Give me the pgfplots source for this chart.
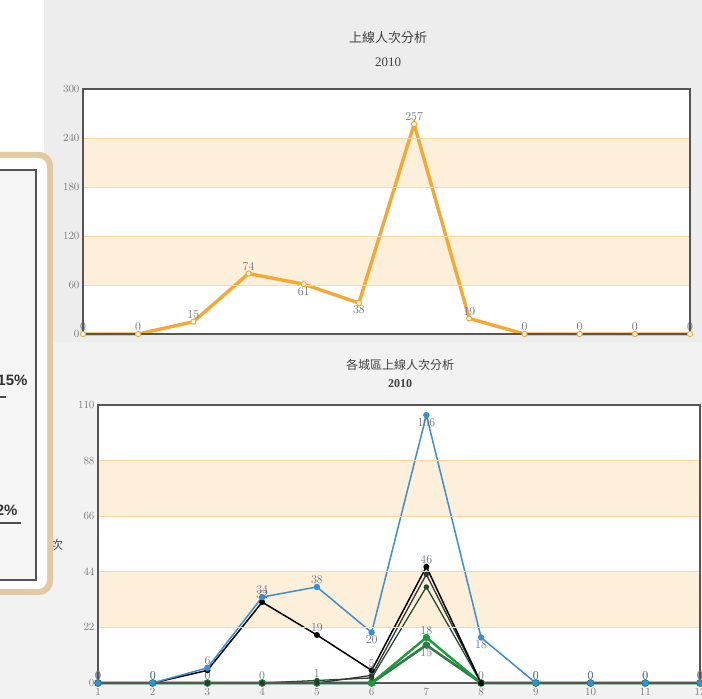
\documentclass[border=0pt]{standalone}
\usepackage{pgfplots}
\pgfplotsset{compat=1.18}
\usepackage{fontspec}
\setmainfont{Liberation Serif}
\newfontfamily\cjk{Noto Sans CJK TC}
\newfontfamily\sansb{Liberation Sans}
\definecolor{bgA}{HTML}{EDEDED}
\definecolor{bgB}{HTML}{F2F2F2}
\definecolor{org}{HTML}{F5A935}
\definecolor{band}{HTML}{FDEFD9}
\definecolor{gridc}{HTML}{FAD8A0}
\definecolor{lbl}{HTML}{6A7085}
\definecolor{tickc}{HTML}{7A7A7A}
\definecolor{blu}{HTML}{3A8ED2}
\definecolor{dgreen}{HTML}{1F4F2C}
\definecolor{grn}{HTML}{1B9A3E}
\definecolor{grn2}{HTML}{2E7D3E}
\definecolor{dgray}{HTML}{333333}
\definecolor{beige}{HTML}{E2C9A2}
\definecolor{frame}{HTML}{555555}
\pgfplotsset{
  common/.style={
    anchor=south west, scale only axis, xmin=1, xmax=12,
    axis on top,
    axis line style={draw=frame, line width=1.2pt},
    tick style={draw=none},
    yticklabel style={font=\fontsize{10.5}{10.5}\selectfont, text=tickc},
    xticklabel style={font=\fontsize{10.5}{10.5}\selectfont, text=tickc, yshift=-2pt},
    ymajorgrids, grid style={gridc, line width=0.7pt},
    axis background/.style={fill=white},
    clip=false,
  },
  lab/.style={draw=none, mark=none, nodes near coords,
    every node near coord/.append style={font=\fontsize{11.5}{11.5}\selectfont, text=lbl, inner sep=3pt}},
  labb/.style={lab, nodes near coords align=below},
}
\begin{document}
\begin{tikzpicture}[x=1pt,y=1pt]
\useasboundingbox (0,0) rectangle (702,699);
\fill[bgA] (0,0) rectangle (702,699);
\fill[white] (0,357) rectangle (44,699);
\fill[bgB] (0,0) rectangle (702,357);

% ---------- top chart ----------
\node[font=\cjk\fontsize{13}{13}\selectfont, text=black!75] at (388,661) {上線人次分析};
\node[font=\fontsize{13}{13}\selectfont, text=black!75] at (388,637) {2010};
\begin{axis}[common, at={(83pt,365pt)}, width=607pt, height=245pt,
  ymin=0, ymax=300, ytick={0,60,...,300}, xtick=\empty]
  \fill[band] (axis cs:1,60) rectangle (axis cs:12,120);
  \fill[band] (axis cs:1,180) rectangle (axis cs:12,240);
  \addplot[org, line width=3.4pt, mark=*, mark size=2.6pt,
    mark options={fill=white, draw=org, line width=1pt}]
    coordinates {(1,0)(2,0)(3,15)(4,74)(5,61)(6,38)(7,257)(8,19)(9,0)(10,0)(11,0)(12,0)};
  \addplot[lab] coordinates {(1,0)(2,0)(3,15)(4,74)(7,257)(8,19)(9,0)(10,0)(11,0)(12,0)};
  \addplot[labb] coordinates {(5,61)(6,38)};
\end{axis}

% ---------- bottom chart ----------
\node[font=\cjk\fontsize{12}{12}\selectfont, text=black!75] at (400,334) {各城區上線人次分析};
\node[font=\bfseries\fontsize{12}{12}\selectfont, text=black!75] at (400,315) {2010};
\node[font=\cjk\fontsize{12}{12}\selectfont, text=black!70] at (57,154) {次};
\begin{axis}[common, at={(98pt,16pt)}, width=602pt, height=278pt,
  ymin=0, ymax=110, ytick={0,22,44,66,88,110}, xtick={1,...,12}]
  \fill[band] (axis cs:1,22) rectangle (axis cs:12,44);
  \fill[band] (axis cs:1,66) rectangle (axis cs:12,88);
  \addplot[grn2, line width=2.6pt, mark=*, mark size=2.4pt]
    coordinates {(1,0)(2,0)(3,0)(4,0)(5,0)(6,0)(7,15)(8,0)(9,0)(10,0)(11,0)(12,0)};
  \addplot[grn, line width=2.4pt, mark=*, mark size=2.4pt]
    coordinates {(1,0)(2,0)(3,0)(4,0)(5,0)(6,0)(7,18)(8,0)(9,0)(10,0)(11,0)(12,0)};
  \addplot[dgreen, line width=1.3pt, mark=*, mark size=2pt]
    coordinates {(1,0)(2,0)(3,0)(4,0)(5,1)(6,2)(7,38)(8,0)(9,0)(10,0)(11,0)(12,0)};
  \addplot[dgray, line width=1.3pt, mark=*, mark size=2pt]
    coordinates {(1,0)(2,0)(3,0)(4,0)(5,0)(6,3)(7,43)(8,0)(9,0)(10,0)(11,0)(12,0)};
  \addplot[black, line width=1.5pt, mark=*, mark size=2.2pt]
    coordinates {(1,0)(2,0)(3,5)(4,32)(5,19)(6,5)(7,46)(8,0)(9,0)(10,0)(11,0)(12,0)};
  \addplot[blu, line width=1.5pt, mark=*, mark size=2.4pt]
    coordinates {(1,0)(2,0)(3,6)(4,34)(5,38)(6,20)(7,106)(8,18)(9,0)(10,0)(11,0)(12,0)};
  % labels
  \addplot[lab] coordinates {(1,0)(2,0)(3,0)(4,0)(5,1)(6,2)(8,0)(9,0)(10,0)(11,0)(12,0)};
  \addplot[lab] coordinates {(1,0)(2,0)(3,6)(4,34)(5,38)(9,0)(10,0)(11,0)(12,0)};
  \addplot[labb] coordinates {(6,20)(7,106)(8,18)};
  \addplot[lab] coordinates {(4,32)(5,19)(6,5)(7,46)(7,18)};
  \addplot[labb] coordinates {(7,15)};
\end{axis}

% ---------- left panel ----------
\fill[beige, rounded corners=14pt] (-30,104) rectangle (53,547);
\fill[white, rounded corners=9pt] (-30,110) rectangle (47,541);
\fill[white!96!black] (-10,119) rectangle (36,529);
\draw[frame, line width=1.6pt] (-10,119) rectangle (36,529);
\node[anchor=east, font=\sansb\bfseries\fontsize{15}{15}\selectfont, text=black!80] at (31,319) {15\%};
\draw[black!70, line width=1.3pt] (0,302) -- (6,302);
\node[anchor=east, font=\sansb\bfseries\fontsize{15}{15}\selectfont, text=black!80] at (21,189) {2\%};
\draw[black!70, line width=1.3pt] (0,176) -- (21,176);
\end{tikzpicture}
\end{document}
